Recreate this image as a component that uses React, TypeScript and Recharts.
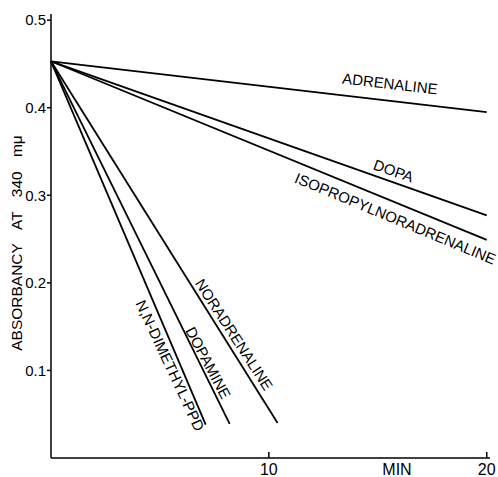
import React from 'react';
import { LineChart, Line, XAxis, YAxis, ReferenceDot } from 'recharts';

// minutes / absorbancy
const adrenaline = [{ t: 0, a: 0.453 }, { t: 20, a: 0.395 }];
const dopa = [{ t: 0, a: 0.453 }, { t: 20, a: 0.277 }];
const isopropylnoradrenaline = [{ t: 0, a: 0.453 }, { t: 20, a: 0.249 }];
const noradrenaline = [{ t: 0, a: 0.453 }, { t: 10.4, a: 0.04 }];
const dopamine = [{ t: 0, a: 0.453 }, { t: 8.2, a: 0.039 }];
const dimethylPPD = [{ t: 0, a: 0.453 }, { t: 7.1, a: 0.038 }];

const yTicks = [0.1, 0.2, 0.3, 0.4, 0.5];
const xTicks = [10, 20];

// curve labels: text, anchor point in data units, rotation in degrees
const curveLabels = [
  { text: 'ADRENALINE', t: 15.55, a: 0.426, angle: 6.5 },
  { text: 'DOPA', t: 15.7, a: 0.3265, angle: 19.5 },
  { text: 'ISOPROPYLNORADRENALINE', t: 15.78, a: 0.272, angle: 22.5 },
  { text: 'NORADRENALINE', t: 8.35, a: 0.14, angle: 57 },
  { text: 'DOPAMINE', t: 7.16, a: 0.108, angle: 62 },
  { text: 'N,N-DIMETHYL-PPD', t: 5.41, a: 0.105, angle: 65 },
];

const FONT = '"Liberation Sans", Arial, sans-serif';
const series = [adrenaline, dopa, isopropylnoradrenaline, noradrenaline, dopamine, dimethylPPD];

const XTick = (props: any) => {
  const { x, y, payload } = props;
  return (
    <g>
      <line x1={x} y1={y} x2={x} y2={y - 6} stroke="#000" strokeWidth={1.5} />
      <text x={x} y={y + 17} textAnchor="middle" fontSize={16} fontFamily={FONT} fill="#000">
        {payload.value}
      </text>
    </g>
  );
};

export default function App() {
  return (
    <div style={{ position: 'absolute', left: 0, top: 0, background: '#fff' }}>
      <LineChart width={498} height={477} margin={{ top: 14, right: 8, bottom: 0, left: 0 }}>
        <XAxis
          type="number"
          dataKey="t"
          domain={[0, 20.15]}
          ticks={xTicks}
          height={19}
          tickSize={0}
          tickMargin={0}
          tickLine={false}
          axisLine={{ stroke: '#000', strokeWidth: 1.5 }}
          tick={<XTick />}
          label={{
            content: (p: any) => {
              const vb = p.viewBox;
              return (
                <text x={vb.x + 346} y={vb.y + 17} textAnchor="middle" fontSize={16} fontFamily={FONT} fill="#000">
                  MIN
                </text>
              );
            },
          }}
        />
        <YAxis
          type="number"
          domain={[0, 0.507]}
          ticks={yTicks}
          width={51}
          tickSize={4}
          tickMargin={1}
          tickLine={{ stroke: '#000', strokeWidth: 1.5 }}
          axisLine={{ stroke: '#000', strokeWidth: 1.5 }}
          tick={{ fill: '#000', fontSize: 15, fontFamily: FONT }}
          tickFormatter={(v: number) => v.toFixed(1)}
          label={{
            content: (p: any) => {
              const vb = p.viewBox;
              const cx = vb.x + 18;
              const cy = 243;
              return (
                <text
                  x={cx}
                  y={cy}
                  transform={`rotate(-90, ${cx}, ${cy})`}
                  textAnchor="middle"
                  dominantBaseline="middle"
                  fontSize={15.5}
                  fontFamily={FONT}
                  wordSpacing={10}
                  fill="#000"
                >
                  ABSORBANCY AT 340 mμ
                </text>
              );
            },
          }}
        />
        {series.map((d, i) => (
          <Line
            key={i}
            data={d}
            dataKey="a"
            type="linear"
            stroke="#000"
            strokeWidth={1.8}
            dot={false}
            isAnimationActive={false}
          />
        ))}
        {curveLabels.map((l) => (
          <ReferenceDot
            key={l.text}
            x={l.t}
            y={l.a}
            r={0}
            ifOverflow="visible"
            shape={(p: any) => (
              <text
                x={p.cx}
                y={p.cy}
                transform={`rotate(${l.angle}, ${p.cx}, ${p.cy})`}
                textAnchor="middle"
                dominantBaseline="middle"
                fontSize={15}
                fontFamily={FONT}
                fill="#000"
              >
                {l.text}
              </text>
            )}
          />
        ))}
      </LineChart>
    </div>
  );
}
